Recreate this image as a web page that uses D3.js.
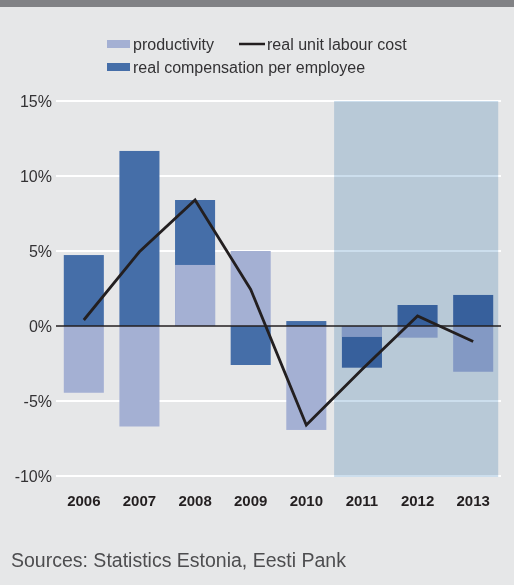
<!DOCTYPE html>
<html>
<head>
<meta charset="utf-8">
<script src="https://cdn.jsdelivr.net/npm/d3@7"></script>
<style>
  html, body { margin: 0; padding: 0; background: #e6e7e8; }
  svg { display: block; font-family: "Liberation Sans", Arial, Helvetica, sans-serif; }
</style>
</head>
<body>
<svg id="chart" width="514" height="585"></svg>
<script>
const years = ["2006", "2007", "2008", "2009", "2010", "2011", "2012", "2013"];
const productivity = [-4.45, -6.7, 4.07, 5.0, -6.93, -0.73, -0.78, -3.05];
const compensation = [4.73, 11.67, 8.4, -2.6, 0.33, -2.78, 1.4, 2.07];
const unitLabourCost = [0.4, 4.95, 8.4, 2.44, -6.6, -2.9, 0.67, -1.04];
const yTicks = [-10, -5, 0, 5, 10, 15];
const shadedYears = ["2011", "2012", "2013"];
const seriesNames = ["productivity", "real unit labour cost", "real compensation per employee"];
const sourceText = "Sources: Statistics Estonia, Eesti Pank";

const colLight = "#a4b0d3", colDark = "#456ea8", colLine = "#231f20";

const svg = d3.select("#chart");
const W = 514, H = 585;

svg.append("rect").attr("width", W).attr("height", H).attr("fill", "#e6e7e8");
svg.append("rect").attr("width", W).attr("height", 7).attr("fill", "#818285");

const x = d3.scaleBand().domain(years).range([56, 501]).paddingInner(0.28).paddingOuter(0.14);
const y = d3.scaleLinear().domain([-10, 15]).range([476, 101]);

// gridlines
svg.append("g").selectAll("line").data(yTicks.filter(t => t !== 0)).join("line")
  .attr("x1", 56).attr("x2", 501)
  .attr("y1", d => y(d)).attr("y2", d => y(d))
  .attr("stroke", "#ffffff").attr("stroke-width", 2);

// y labels
svg.append("g").selectAll("text").data(yTicks).join("text")
  .attr("x", 52).attr("y", d => y(d)).attr("dy", "0.36em")
  .attr("text-anchor", "end").attr("font-size", 16).attr("fill", "#333234")
  .text(d => d + "%");

// bars
svg.append("g").selectAll("rect").data(years).join("rect")
  .attr("x", d => x(d)).attr("width", x.bandwidth())
  .attr("y", (d, i) => y(Math.max(0, compensation[i])))
  .attr("height", (d, i) => Math.abs(y(compensation[i]) - y(0)))
  .attr("fill", colDark);
svg.append("g").selectAll("rect").data(years).join("rect")
  .attr("x", d => x(d)).attr("width", x.bandwidth())
  .attr("y", (d, i) => y(Math.max(0, productivity[i])))
  .attr("height", (d, i) => Math.abs(y(productivity[i]) - y(0)))
  .attr("fill", colLight);

// shaded forecast area
const sx0 = x(shadedYears[0]) - x.step() * x.paddingInner() / 2;
const sx1 = x(shadedYears[shadedYears.length - 1]) + x.bandwidth() + 5;
svg.append("rect")
  .attr("x", sx0).attr("width", sx1 - sx0)
  .attr("y", y(15)).attr("height", y(-10) - y(15) + 1)
  .attr("fill", "#ccdeed")
  .style("mix-blend-mode", "multiply");

// zero line
svg.append("line").attr("x1", 56).attr("x2", 501)
  .attr("y1", y(0)).attr("y2", y(0))
  .attr("stroke", colLine).attr("stroke-width", 1.5);

// line
const line = d3.line().x((d, i) => x(years[i]) + x.bandwidth() / 2).y(d => y(d));
svg.append("path").datum(unitLabourCost)
  .attr("d", line).attr("fill", "none")
  .attr("stroke", colLine).attr("stroke-width", 2.8).attr("stroke-linejoin", "miter");

// x labels
svg.append("g").selectAll("text").data(years).join("text")
  .attr("x", d => x(d) + x.bandwidth() / 2).attr("y", 506)
  .attr("text-anchor", "middle").attr("font-size", 15).attr("font-weight", "bold")
  .attr("fill", colLine).text(d => d);

// legend
const lg = svg.append("g").attr("font-size", 16).attr("fill", "#333234");
lg.append("rect").attr("x", 107).attr("y", 40).attr("width", 23).attr("height", 8).attr("fill", colLight);
lg.append("text").attr("x", 133).attr("y", 50).text(seriesNames[0]);
lg.append("line").attr("x1", 239).attr("x2", 265).attr("y1", 44).attr("y2", 44)
  .attr("stroke", colLine).attr("stroke-width", 2.5);
lg.append("text").attr("x", 267).attr("y", 50).text(seriesNames[1]);
lg.append("rect").attr("x", 107).attr("y", 63).attr("width", 23).attr("height", 8).attr("fill", colDark);
lg.append("text").attr("x", 133).attr("y", 73).text(seriesNames[2]);

// source
svg.append("text").attr("x", 11).attr("y", 567)
  .attr("font-size", 19.5).attr("fill", "#4d4d4f").text(sourceText);
</script>
</body>
</html>
